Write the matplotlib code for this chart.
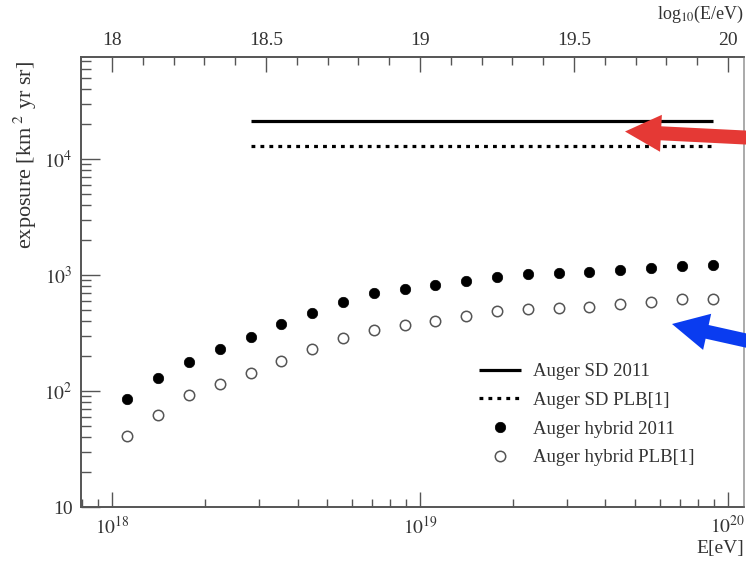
import matplotlib
matplotlib.use("Agg")
import matplotlib.pyplot as plt
from matplotlib.patches import FancyArrow
from matplotlib.transforms import IdentityTransform
from matplotlib.ticker import FixedLocator, FixedFormatter, NullFormatter

plt.rcParams["font.family"] = ["Liberation Serif", "DejaVu Serif"]
plt.rcParams["mathtext.fontset"] = "stix"

# energy bins, log10(E/eV)
log_e = [18.05, 18.15, 18.25, 18.35, 18.45, 18.55, 18.65, 18.75, 18.85, 18.95,
         19.05, 19.15, 19.25, 19.35, 19.45, 19.55, 19.65, 19.75, 19.85, 19.95]
# hybrid exposure [km^2 yr sr]
hybrid_2011 = [86, 129, 179, 230, 294, 376, 468, 582, 695, 753,
               820, 888, 967, 1014, 1035, 1068, 1104, 1142, 1196, 1220]
hybrid_plb = [41, 62, 92, 116, 144, 182, 229, 285, 336, 371,
              404, 443, 492, 506, 516, 533, 562, 582, 618, 621]
# surface detector exposure (flat above full efficiency)
sd_range = [18.45, 19.95]
sd_2011 = 2.13e4
sd_plb = 1.29e4

W, H = 746, 564
fig = plt.figure(figsize=(W / 100, H / 100), dpi=100)
ax = fig.add_axes([81 / W, (H - 507) / H, (744 - 81) / W, (507 - 57) / H])

E = [10.0 ** v for v in log_e]
sd_e = [10.0 ** v for v in sd_range]

ax.plot(sd_e, [sd_2011] * 2, color="black", lw=2.3, solid_capstyle="butt",
        label="Auger SD 2011")
ax.plot(sd_e, [sd_plb] * 2, color="black", lw=2.3, dashes=(1.2, 1.6),
        dash_capstyle="butt", label="Auger SD PLB[1]")
ax.plot(E, hybrid_2011, "o", color="black", ms=7.5, mec="black", mew=0.5,
        label="Auger hybrid 2011")
ax.plot(E, hybrid_plb, "o", mfc="white", mec="#555555", ms=7.5, mew=1.1,
        label="Auger hybrid PLB[1]")

ax.set_xscale("log")
ax.set_yscale("log")
ax.set_xlim(10 ** 17.899, 10 ** 20.052)
ax.set_ylim(10, 10 ** 4.879)

gray = "#555555"
txt = "#333333"

ax.yaxis.set_major_locator(FixedLocator([10, 100, 1000, 10000]))
ax.yaxis.set_major_formatter(FixedFormatter(["10", "$10^2$", "$10^3$", "$10^4$"]))
ax.yaxis.set_minor_locator(FixedLocator(
    [m * 10.0 ** k for k in range(1, 5) for m in range(2, 10)]))
ax.yaxis.set_minor_formatter(NullFormatter())
ax.xaxis.set_major_locator(FixedLocator([1e18, 1e19, 1e20]))
ax.xaxis.set_major_formatter(FixedFormatter(["$10^{18}$", "$10^{19}$", "$10^{20}$"]))
ax.xaxis.set_minor_locator(FixedLocator(
    [m * 10.0 ** k for k in range(17, 20) for m in range(2, 10)]))
ax.xaxis.set_minor_formatter(NullFormatter())
ax.tick_params(which="both", direction="in", color=gray, width=1.0,
               labelcolor=txt, labelsize=14)
ax.tick_params(axis="y", which="major", length=14, pad=6)
ax.tick_params(axis="y", which="minor", length=7)
ax.tick_params(axis="x", which="major", length=11, pad=6)
ax.tick_params(axis="x", which="minor", length=6)

# top axis in log10(E/eV)
top = ax.twiny()
top.set_xlim(17.899, 20.052)
top.set_xticks([18, 18.5, 19, 19.5, 20])
top.set_xticklabels(["18", "18.5", "19", "19.5", "20"])
top.set_xticks([v / 10 for v in range(180, 201)], minor=True)
top.tick_params(which="both", direction="in", color=gray, width=1.0,
                labelcolor=txt, labelsize=14, pad=6)
top.tick_params(which="major", length=11)
top.tick_params(which="minor", length=6)

for a in (ax, top):
    for name, s in a.spines.items():
        s.set_color("#aaaaaa" if name == "right" else gray)
        s.set_linewidth(1.2)

fig.text(25 / W, 1 - 155 / H, "exposure [km$^{\\ 2}$ yr sr]", rotation=90,
         ha="center", va="center", fontsize=16, color=txt)
fig.text(744 / W, 1 - 549 / H, "E[eV]", ha="right", va="center",
         fontsize=14, color=txt)
fig.text(744 / W, 1 - 14 / H, "log$_{10}$(E/eV)", ha="right", va="center",
         fontsize=13, color=txt)

ax.legend(loc="upper left", bbox_to_anchor=(479 / W, 1 - 363 / H),
          bbox_transform=fig.transFigure, frameon=False, fontsize=13.5,
          handlelength=2.24, handletextpad=0.64, labelspacing=0.62,
          borderaxespad=0, borderpad=0, labelcolor=txt)

# highlight arrows, in pixels (origin bottom left)
def arrow(x0, y0, x1, y1, color):
    fig.add_artist(FancyArrow(x0, H - y0, x1 - x0, y0 - y1, width=14,
                              head_width=37, head_length=36,
                              length_includes_head=True, color=color, lw=0,
                              transform=IdentityTransform()))

arrow(775, 139, 625, 131.5, "#e53935")
arrow(775, 347, 672, 324, "#0a3cf0")

fig.savefig("out.png", dpi=100)
